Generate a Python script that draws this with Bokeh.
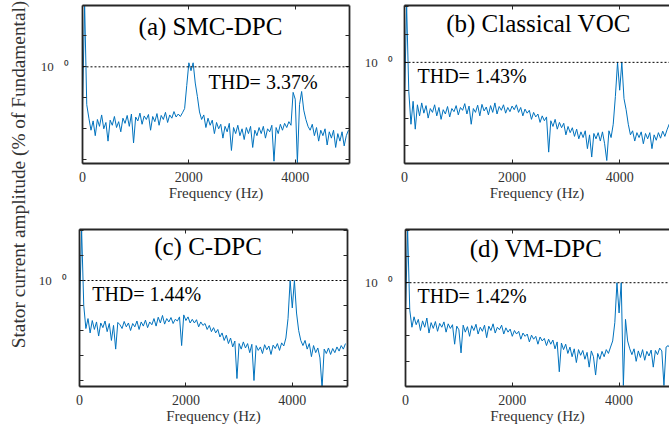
import math
from bokeh.plotting import figure
from bokeh.models import Label, Span, LinearAxis, LogAxis, FixedTicker
from bokeh.layouts import row, column
from bokeh.embed import file_html
from bokeh.resources import INLINE

# ---------------- data ----------------
freq_hz = [40 * i for i in range(126)]  # 0 .. 5000 Hz

smc_dpc = [
    0.05, 100, 0.06, 0.022, 0.009, 0.018, 0.006, 0.02, 0.012, 0.028,
    0.01, 0.016, 0.004, 0.019, 0.013, 0.025, 0.011, 0.017, 0.008, 0.022,
    0.015, 0.027, 0.012, 0.03, 0.0035, 0.024, 0.018, 0.032, 0.014, 0.026,
    0.02, 0.029, 0.009, 0.025, 0.017, 0.031, 0.013, 0.027, 0.02, 0.034,
    0.016, 0.028, 0.022, 0.036, 0.024, 0.03, 0.025, 0.033, 0.045, 0.25,
    1.35, 0.75, 1.35, 0.3, 0.11, 0.035, 0.02, 0.028, 0.011, 0.022,
    0.013, 0.019, 0.007, 0.016, 0.01, 0.014, 0.005, 0.012, 0.008, 0.015,
    0.002, 0.011, 0.007, 0.013, 0.006, 0.01, 0.0045, 0.011, 0.007, 0.012,
    0.0025, 0.009, 0.006, 0.011, 0.007, 0.012, 0.005, 0.01, 0.008, 0.013,
    0.0009, 0.011, 0.007, 0.014, 0.009, 0.015, 0.011, 0.017, 0.013, 0.15,
    0.09, 0.0008, 0.06, 0.16, 0.04, 0.02, 0.012, 0.009, 0.014, 0.006,
    0.011, 0.004, 0.009, 0.006, 0.01, 0.003, 0.008, 0.005, 0.009, 0.0025,
    0.007, 0.004, 0.008, 0.0028, 0.006, 0.009]

classical_voc = [
    0.05, 100, 0.09, 0.006, 0.04, 0.004, 0.03, 0.012, 0.035, 0.015,
    0.028, 0.01, 0.022, 0.016, 0.03, 0.012, 0.024, 0.009, 0.02, 0.014,
    0.026, 0.011, 0.022, 0.017, 0.028, 0.013, 0.024, 0.019, 0.033, 0.014,
    0.027, 0.006, 0.022, 0.016, 0.029, 0.012, 0.031, 0.018, 0.025, 0.013,
    0.028, 0.016, 0.035, 0.014, 0.026, 0.019, 0.03, 0.015, 0.024, 0.017,
    0.027, 0.02, 0.03, 0.016, 0.024, 0.012, 0.021, 0.015, 0.019, 0.009,
    0.016, 0.011, 0.014, 0.007, 0.012, 0.008, 0.011, 0.0006, 0.008, 0.005,
    0.009, 0.004, 0.007, 0.0045, 0.0065, 0.0025, 0.005, 0.003, 0.0045, 0.0022,
    0.004, 0.0018, 0.0032, 0.002, 0.0035, 0.0008, 0.0025, 0.0004, 0.0028, 0.0018,
    0.003, 0.0015, 0.0032, 0.0012, 0.0003, 0.0035, 0.002, 0.006, 0.06, 1.0,
    0.1, 1.0, 0.05, 0.02, 0.006, 0.0025, 0.0035, 0.0015, 0.003, 0.002,
    0.0032, 0.0012, 0.0028, 0.0018, 0.003, 0.0008, 0.0025, 0.0016, 0.003, 0.0019,
    0.0034, 0.0022, 0.0038, 0.006, 0.004, 0.005]

c_dpc = [
    0.06, 100, 0.1, 0.012, 0.03, 0.008, 0.025, 0.011, 0.022, 0.006,
    0.02, 0.013, 0.024, 0.009, 0.019, 0.004, 0.016, 0.0018, 0.021, 0.017,
    0.012, 0.023, 0.014, 0.02, 0.01, 0.019, 0.014, 0.024, 0.011, 0.022,
    0.015, 0.026, 0.013, 0.022, 0.017, 0.03, 0.015, 0.034, 0.02, 0.04,
    0.018, 0.03, 0.022, 0.033, 0.019, 0.028, 0.024, 0.035, 0.0025, 0.042,
    0.025, 0.035, 0.02, 0.028, 0.02, 0.027, 0.014, 0.022, 0.016, 0.019,
    0.011, 0.016, 0.009, 0.013, 0.008, 0.011, 0.0055, 0.008, 0.004, 0.0065,
    0.003, 0.005, 0.0022, 0.0038, 0.00012, 0.003, 0.0018, 0.0035, 0.002, 0.003,
    0.0013, 0.0028, 0.0001, 0.0025, 0.0016, 0.0022, 0.0012, 0.0027, 0.0017, 0.0024,
    0.0011, 0.0026, 0.0019, 0.003, 0.0016, 0.0032, 0.0024, 0.005, 0.03, 1.0,
    0.08, 1.0, 0.05, 0.01, 0.004, 0.0025, 0.004, 0.0018, 0.003, 0.0009,
    0.0025, 0.0013, 0.002, 0.0008, 0.00005, 0.0018, 0.0012, 0.002, 0.0011, 0.0019,
    0.0013, 0.0022, 0.0015, 0.0025, 0.0018, 0.003]

vm_dpc = [
    0.08, 100, 0.09, 0.02, 0.05, 0.025, 0.04, 0.015, 0.035, 0.02,
    0.045, 0.012, 0.03, 0.018, 0.033, 0.014, 0.028, 0.02, 0.032, 0.013,
    0.027, 0.018, 0.025, 0.0045, 0.022, 0.016, 0.0021, 0.024, 0.013, 0.021,
    0.009, 0.023, 0.015, 0.026, 0.011, 0.02, 0.014, 0.024, 0.008, 0.022,
    0.015, 0.027, 0.012, 0.02, 0.016, 0.024, 0.011, 0.019, 0.013, 0.017,
    0.009, 0.015, 0.011, 0.014, 0.007, 0.012, 0.009, 0.011, 0.0055, 0.01,
    0.007, 0.009, 0.0045, 0.0085, 0.006, 0.0075, 0.004, 0.007, 0.0045, 0.0065,
    0.003, 0.0055, 0.0004, 0.005, 0.0028, 0.0045, 0.002, 0.0035, 0.0015, 0.003,
    0.0009, 0.0028, 0.0017, 0.0026, 0.0012, 0.0022, 0.0006, 0.0025, 0.0015, 0.0003,
    0.002, 0.0012, 0.0024, 0.0015, 0.0028, 0.002, 0.0035, 0.006, 0.03, 1.0,
    0.07, 1.0, 0.00012, 0.04, 0.006, 0.003, 0.0018, 0.003, 0.001, 0.0025,
    0.0014, 0.0028, 0.0011, 0.0024, 0.0016, 0.0027, 0.0006, 0.0026, 0.0018, 0.0032,
    0.0025, 0.00012, 0.0035, 0.004, 0.003, 0.004]

titles = ["(a) SMC-DPC", "(b) Classical VOC", "(c) C-DPC", "(d) VM-DPC"]
thd_texts = ["THD= 3.37%", "THD= 1.43%", "THD= 1.44%", "THD= 1.42%"]
x_ticks = [0, 2000, 4000]
y_ticks = [1e-4, 1e-3, 1e-2, 1e-1, 1, 10, 100]
y_tick_label_one = "10\u00a0\u00a0\u00a0\u2070"   # "10 ⁰" as drawn in the figure
reference_level = 1.0
y_label = "Stator current amplitude (% of Fundamental)"
x_label = "Frequency (Hz)"

# ---------------- layout geometry (global pixels) ----------------
FONT = "Liberation Serif"
BLUE = "#0072BD"
AX = "#262626"

panels = [
    dict(vals=smc_dpc, fig=(32, 0, 360, 210), L=82, R=349, T=5, B=164,
         xmax=5020, ylo=-3.12, yhi=1.98, right=True, ystand=14,
         title_xy=(210, 26), thd_xy=(208, 81.7)),
    dict(vals=classical_voc, fig=(360, 0, 669, 210), L=404, R=669, T=3, B=163,
         xmax=4926, ylo=-3.63, yhi=2.04, right=False, ystand=12,
         title_xy=(538, 21.7), thd_xy=(417, 74)),
    dict(vals=c_dpc, fig=(32, 210, 360, 432), L=79, R=347, T=229, B=388,
         xmax=5038, ylo=-4.24, yhi=2.04, right=True, ystand=13,
         title_xy=(207.5, 246.7), thd_xy=(91.7, 294)),
    dict(vals=vm_dpc, fig=(360, 210, 669, 432), L=405, R=669, T=226, B=386,
         xmax=4944, ylo=-3.96, yhi=2.03, right=False, ystand=13,
         title_xy=(535.5, 245.7), thd_xy=(417, 294)),
]


def style_axis_lines(a, ticks):
    a.ticker = FixedTicker(ticks=ticks)
    a.major_tick_in = 4
    a.major_tick_out = 0
    a.minor_tick_line_color = None
    a.axis_line_width = 1.8
    a.axis_line_color = AX
    a.major_tick_line_color = AX


def style_blank_axis(a, ticks):
    style_axis_lines(a, ticks)
    a.major_label_text_font_size = "1px"
    a.major_label_text_color = None
    a.major_label_standoff = 0


def make_panel(k):
    g = panels[k]
    fl, ft, fr, fb = g["fig"]
    L, R, T, B = g["L"], g["R"], g["T"], g["B"]

    def X(px):
        return (px - L) / (R - L) * g["xmax"]

    def Y(py):
        return 10 ** (g["yhi"] - (py - T) / (B - T) * (g["yhi"] - g["ylo"]))

    p = figure(width=fr - fl, height=fb - ft, x_range=(0, g["xmax"]),
               y_range=(10 ** g["ylo"], 10 ** g["yhi"]), y_axis_type="log",
               output_backend="svg", toolbar_location=None,
               min_border_left=L - fl, min_border_right=fr - R,
               min_border_top=T - ft, min_border_bottom=fb - B)
    p.outline_line_color = None
    p.grid.visible = False
    p.background_fill_color = "white"
    p.border_fill_color = "white"

    p.line(freq_hz, g["vals"], line_color=BLUE, line_width=1)
    p.add_layout(Span(location=reference_level, dimension="width",
                      line_color="black", line_dash="2 2", line_width=1))

    xa = p.xaxis[0]
    style_axis_lines(xa, x_ticks)
    xa.major_label_text_font = FONT
    xa.major_label_text_font_size = "14px"
    xa.major_label_text_color = "#333333"
    xa.major_label_standoff = 8
    xa.axis_label = x_label
    xa.axis_label_text_font = FONT
    xa.axis_label_text_font_style = "normal"
    xa.axis_label_text_font_size = "15px"
    xa.axis_label_text_color = "#333333"
    xa.axis_label_standoff = 0

    ya = p.yaxis[0]
    style_axis_lines(ya, y_ticks)
    ya.major_label_overrides = {t: (y_tick_label_one if t == 1 else " ") for t in y_ticks}
    ya.major_label_text_font = FONT
    ya.major_label_text_font_size = "13px"
    ya.major_label_text_color = "#333333"
    ya.major_label_standoff = g["ystand"]

    top = LinearAxis()
    style_blank_axis(top, x_ticks)
    p.add_layout(top, "above")
    if g["right"]:
        ra = LogAxis()
        style_blank_axis(ra, y_ticks)
        p.add_layout(ra, "right")

    tx, ty = g["title_xy"]
    p.add_layout(Label(x=X(tx), y=Y(ty), text=titles[k], text_align="center",
                       text_baseline="middle", text_font=FONT, text_font_size="25px",
                       text_color="black"))
    hx, hy = g["thd_xy"]
    p.add_layout(Label(x=X(hx), y=Y(hy), text=thd_texts[k], text_align="left",
                       text_baseline="middle", text_font=FONT, text_font_size="20px",
                       text_color="black"))
    return p


figs = [make_panel(k) for k in range(4)]

lab = figure(width=32, height=432, x_range=(0, 32), y_range=(432, 0),
             x_axis_location=None, y_axis_location=None, output_backend="svg",
             toolbar_location=None, min_border=0)
lab.outline_line_color = None
lab.grid.visible = False
lab.add_layout(Label(x=18, y=174, text=y_label, angle=math.pi / 2, text_align="center",
                     text_baseline="middle", text_font=FONT, text_font_size="19.3px",
                     text_color="#333333"))

layout = row(lab, column(row(figs[0], figs[1]), row(figs[2], figs[3])))
open("out.html", "w").write(file_html(layout, INLINE))
